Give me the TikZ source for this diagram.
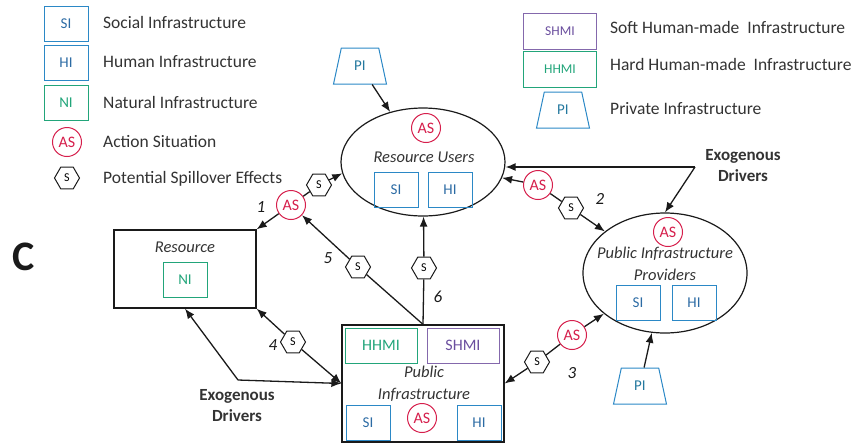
\documentclass[tikz,border=0pt]{standalone}
\usepackage{fontspec}
\setmainfont{Carlito}
\usetikzlibrary{shapes.geometric, arrows.meta, positioning}
\definecolor{ink}{HTML}{1A1A1A}
\definecolor{mute}{HTML}{333333}
\definecolor{siblue}{HTML}{2B88C6}
\definecolor{sitext}{HTML}{2C6BA4}
\definecolor{nigreen}{HTML}{22A57A}
\definecolor{shmipurple}{HTML}{8468AC}
\definecolor{shmitext}{HTML}{6A4E9E}
\definecolor{asred}{HTML}{D61F4C}
\definecolor{pitext}{HTML}{24789E}
\tikzset{
  infra/.style      = {rectangle, draw=siblue, line width=1pt, text=sitext,
                       minimum width=44pt, minimum height=35pt, inner sep=0pt,
                       font=\fontsize{15}{18}\selectfont},
  natinfra/.style   = {infra, draw=nigreen, text=nigreen},
  hardinfra/.style  = {infra, draw=nigreen, text=nigreen, minimum width=72pt},
  softinfra/.style  = {infra, draw=shmipurple, text=shmitext, minimum width=72pt},
  privinfra/.style  = {trapezium, trapezium left angle=76, trapezium right angle=76,
                       trapezium stretches=true, draw=siblue, text=pitext, line width=1pt,
                       minimum width=53pt, minimum height=36pt, inner sep=0pt,
                       font=\fontsize{15}{18}\selectfont},
  actsit/.style     = {circle, draw=asred, fill=white, text=asred, line width=1pt,
                       minimum size=29pt, inner sep=0pt, font=\fontsize{16}{18}\selectfont},
  spill/.style      = {regular polygon, regular polygon sides=6, draw=ink, fill=white,
                       line width=1pt, minimum size=25pt, inner sep=0pt,
                       font=\fontsize{12}{13}\selectfont},
  arena/.style      = {ellipse, draw=ink, line width=1.2pt, inner sep=0pt},
  system/.style     = {rectangle, draw=ink, line width=1.3pt, inner sep=0pt},
  legtext/.style    = {anchor=west, inner sep=0pt, text=mute, font=\fontsize{17.5}{20}\selectfont},
  roletext/.style   = {align=center, text=mute, font=\fontsize{16.5}{22}\selectfont\itshape},
  drivertext/.style = {align=center, text=mute, font=\fontsize{17}{21}\selectfont\bfseries},
  linknum/.style    = {text=ink, font=\fontsize{17}{20}\selectfont\itshape},
  flow/.style       = {-{Latex[length=10pt, width=8pt]}, line width=1.3pt, draw=ink},
  tie/.style        = {line width=1.3pt, draw=ink},
}

\begin{document}
\begin{tikzpicture}[x=1pt, y=-1pt]
  \useasboundingbox (0,0) rectangle (859,445);

  % legend
  \node[infra] (legsi) at (66,24) {SI};
  \node[infra] (leghi) at (66,63) {HI};
  \node[natinfra] (legni) at (66,103) {NI};
  \node[actsit] (legas) at (67,142) {AS};
  \node[spill] (legspill) at (67,178) {S};
  \node[legtext] (legsitext) at (103,22) {Social Infrastructure};
  \node[legtext] (leghitext) at (103,62) {Human Infrastructure};
  \node[legtext] (legnitext) at (103,102) {Natural Infrastructure};
  \node[legtext] (legastext) at (103,142) {Action Situation};
  \node[legtext] (legspilltext) at (103,179) {Potential Spillover Effects};

  \node[softinfra, minimum width=73pt, minimum height=36pt,
        font=\fontsize{13.5}{15}\selectfont] (legshmi) at (560,31) {SHMI};
  \node[hardinfra, minimum width=73pt, minimum height=36pt,
        font=\fontsize{13.5}{15}\selectfont] (leghhmi) at (560,69) {HHMI};
  \node[privinfra] (legpi) at (563,110) {PI};
  \node[legtext] (legshmitext) at (610,27) {Soft Human-made\ \ Infrastructure};
  \node[legtext] (leghhmitext) at (610,64) {Hard Human-made\ \ Infrastructure};
  \node[legtext] (legpitext) at (610,109) {Private Infrastructure};

  \node[font=\fontsize{42}{42}\selectfont\bfseries, text=ink] (panel) at (24,257) {C};

  % resource users
  \node[arena, minimum width=164pt, minimum height=108pt] (users) at (423,162) {};
  \node[actsit] (usersas) at (426,128) {AS};
  \node[roletext] (userslabel) at (424,157) {Resource Users};
  \node[infra] (userssi) at (396,190) {SI};
  \node[infra] (usershi) at (450,190) {HI};
  \node[privinfra] (userspi) at (360,66) {PI};

  % public infrastructure providers
  \node[arena, minimum width=164pt, minimum height=120pt] (providers) at (665,273) {};
  \node[actsit] (provas) at (668,232) {AS};
  \node[roletext] (provlabel) at (665,264) {Public Infrastructure\\Providers};
  \node[infra] (provsi) at (638,303) {SI};
  \node[infra] (provhi) at (694,303) {HI};
  \node[privinfra] (provpi) at (640,386) {PI};

  % public infrastructure
  \node[system, minimum width=162pt, minimum height=117pt] (public) at (423,383.5) {};
  \node[hardinfra, font=\fontsize{16}{18}\selectfont] (pubhhmi) at (381,345.5) {HHMI};
  \node[softinfra, font=\fontsize{16}{18}\selectfont] (pubshmi) at (463,345.5) {SHMI};
  \node[roletext] (publabel) at (424,383.5) {Public\\Infrastructure};
  \node[infra] (pubsi) at (368,422.5) {SI};
  \node[actsit] (pubas) at (422,418) {AS};
  \node[infra] (pubhi) at (479,422.5) {HI};

  % resource
  \node[system, minimum width=142pt, minimum height=78pt] (resource) at (185,269) {};
  \node[roletext] (reslabel) at (185,247) {Resource};
  \node[natinfra] (resni) at (185,279.5) {NI};

  % links
  \node[actsit] (as1) at (291,205) {AS};
  \node[spill] (s1) at (319,185) {S};
  \node[linknum] (n1) at (261,207) {1};
  \draw[flow] (as1) -- (resource.north east);
  \draw[tie] (as1) -- (s1);
  \draw[flow] (s1) -- (users.188);

  \node[actsit] (as2) at (538,185) {AS};
  \node[spill] (s2) at (571,208) {S};
  \node[linknum] (n2) at (600,199) {2};
  \draw[flow] (as2) -- (users);
  \draw[tie] (as2) -- (s2);
  \draw[flow] (s2) -- (providers);

  \node[actsit] (as3) at (572,335) {AS};
  \node[spill] (s3) at (537,362) {S};
  \node[linknum] (n3) at (572,373) {3};
  \draw[flow] (as3) -- (providers);
  \draw[tie] (as3) -- (s3);
  \draw[flow] (s3) -- (public.east);

  \node[spill] (s4) at (293,342) {S};
  \node[linknum] (n4) at (273,345) {4};
  \draw[flow] (s4) -- (resource.south east);
  \draw[flow] (s4) -- (public.west);

  \node[spill] (s5) at (358,267) {S};
  \node[linknum] (n5) at (328,258) {5};
  \draw[tie] (public.north) -- (s5);
  \draw[flow] (s5) -- (as1);

  \node[spill] (s6) at (424,268) {S};
  \node[linknum] (n6) at (438,297) {6};
  \draw[tie] (public.north) -- (s6);
  \draw[flow] (s6) -- (users);

  % drivers and private infrastructure
  \node[drivertext] (drivers1) at (743,166) {Exogenous\\Drivers};
  \coordinate (fork1) at (695,167);
  \draw[flow] (fork1) -- (fork1 -| users.east);
  \draw[flow] (fork1) -- (providers.north);

  \node[drivertext] (drivers2) at (237,406) {Exogenous\\Drivers};
  \coordinate (fork2) at (238,380);
  \draw[flow] (fork2) -- (public.west);
  \draw[flow] (fork2) -- (resource.south);

  \draw[flow] (userspi) -- (users);
  \draw[flow] (provpi) -- (providers);
\end{tikzpicture}
\end{document}
